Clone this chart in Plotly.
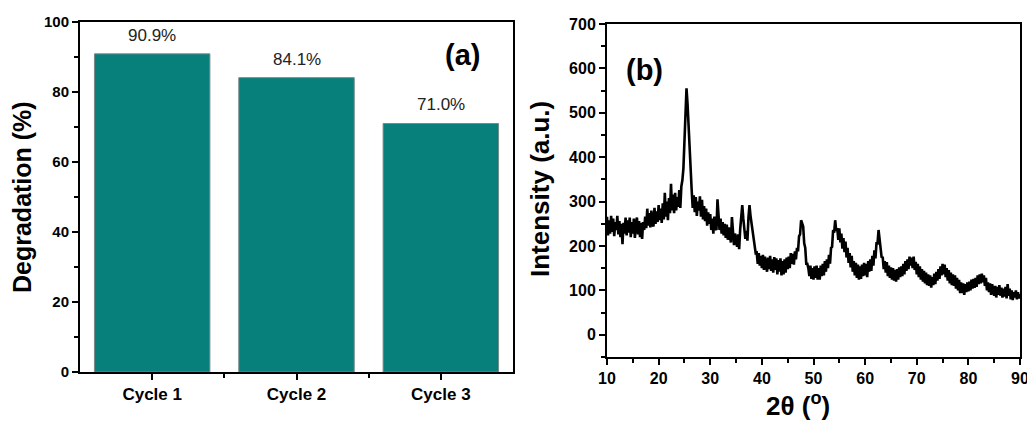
import plotly.graph_objects as go

# ---- Panel (a) data ----
cycles = ["Cycle 1", "Cycle 2", "Cycle 3"]
degradation = [90.9, 84.1, 71.0]
deg_labels = ["90.9%", "84.1%", "71.0%"]

# ---- Panel (b) data: XRD pattern, 2theta 10..90 step 0.2 ----
two_theta_start = 10.0
two_theta_step = 0.2
intensity = [
    266, 224, 258, 228, 268,   # 10
    232, 262, 222, 254, 236,   # 11
    268, 226, 256, 220, 250,   # 12
    204, 252, 228, 264, 224,   # 13
    258, 230, 264, 220, 254,   # 14
    228, 262, 218, 250, 264,   # 15
    226, 256, 220, 252, 216,   # 16
    254, 236, 266, 240, 284,   # 17
    246, 274, 242, 280, 248,   # 18
    244, 286, 250, 278, 254,   # 19
    292, 258, 284, 252, 296,   # 20
    260, 320, 266, 300, 258,   # 21
    308, 274, 340, 280, 316,   # 22
    274, 320, 280, 310, 288,   # 23
    326, 286, 334, 348, 375,   # 24
    430, 505, 555, 520, 470,   # 25
    395, 345, 326, 286, 314,   # 26
    276, 310, 268, 300, 280,   # 27
    312, 266, 304, 260, 290,   # 28
    256, 284, 246, 276, 250,   # 29
    272, 236, 262, 228, 266,   # 30
    240, 236, 305, 272, 236,   # 31
    262, 228, 254, 224, 250,   # 32
    218, 248, 214, 242, 220,   # 33
    208, 265, 224, 202, 228,   # 34
    212, 198, 226, 193, 238,   # 35
    260, 292, 262, 226, 216,   # 36
    234, 212, 264, 292, 268,   # 37
    252, 228, 214, 194, 184,   # 38
    185, 160, 184, 156, 178,   # 39
    150, 180, 146, 176, 152,   # 40
    142, 174, 148, 178, 144,   # 41
    170, 140, 175, 146, 172,   # 42
    136, 168, 142, 172, 134,   # 43
    166, 136, 170, 140, 174,   # 44
    148, 176, 150, 184, 160,   # 45
    182, 158, 188, 170, 196,   # 46
    188, 222, 226, 258, 250,   # 47
    244, 206, 196, 160, 160,   # 48
    150, 132, 156, 126, 150,   # 49
    124, 154, 128, 156, 124,   # 50
    150, 124, 156, 132, 160,   # 51
    134, 166, 142, 170, 150,   # 52
    180, 160, 196, 198, 236,   # 53
    230, 258, 234, 240, 214,   # 54
    240, 208, 228, 194, 218,   # 55
    186, 210, 174, 196, 162,   # 56
    184, 152, 178, 142, 166,   # 57
    134, 162, 128, 158, 124,   # 58
    154, 126, 158, 132, 162,   # 59
    134, 160, 130, 166, 142,   # 60
    170, 144, 178, 156, 190,   # 61
    172, 206, 206, 236, 212,   # 62
    204, 174, 176, 148, 166,   # 63
    140, 164, 132, 156, 128,   # 64
    152, 124, 150, 122, 146,   # 65
    120, 148, 124, 152, 130,   # 66
    154, 132, 160, 136, 166,   # 67
    144, 170, 148, 176, 156,   # 68
    174, 150, 176, 146, 164,   # 69
    136, 160, 130, 154, 124,   # 70
    148, 120, 144, 116, 140,   # 71
    112, 136, 110, 134, 106,   # 72
    130, 112, 138, 114, 142,   # 73
    122, 148, 126, 154, 134,   # 74
    160, 136, 158, 130, 150,   # 75
    122, 146, 116, 140, 112,   # 76
    136, 110, 134, 104, 128,   # 77
    100, 124, 94, 118, 94,     # 78
    116, 90, 114, 96, 118,     # 79
    98, 120, 100, 124, 104,    # 80
    126, 106, 128, 108, 134,   # 81
    114, 136, 116, 138, 118,   # 82
    134, 110, 128, 100, 118,   # 83
    96, 116, 90, 114, 94,      # 84
    88, 110, 84, 108, 90,      # 85
    112, 88, 106, 84, 104,     # 86
    86, 108, 82, 114, 88,      # 87
    104, 80, 100, 78, 96,      # 88
    84, 100, 80, 96, 82,       # 89
    92,                        # 90
]
two_theta = [round(two_theta_start + i * two_theta_step, 2) for i in range(len(intensity))]

FONT = "Arial, Liberation Sans, sans-serif"
BAR_COLOR = "#077f7a"

fig = go.Figure()

bar_x = list(range(len(cycles)))
fig.add_trace(go.Bar(
    x=bar_x, y=degradation, width=0.8,
    marker=dict(color=BAR_COLOR, line=dict(color="#7a8a8a", width=1)),
    xaxis="x", yaxis="y", showlegend=False,
))

fig.add_trace(go.Scatter(
    x=two_theta, y=intensity, mode="lines",
    line=dict(color="black", width=2.6),
    xaxis="x2", yaxis="y2", showlegend=False,
))

annotations = []
for xi, v, lab in zip(bar_x, degradation, deg_labels):
    annotations.append(dict(x=xi, y=v, xref="x", yref="y", text=lab, showarrow=False,
                            xanchor="center", yanchor="bottom", yshift=7,
                            font=dict(family=FONT, size=17, color="#222")))

def paper_text(px, py, text, size, angle=0):
    return dict(x=px / 1027, y=1 - py / 421, xref="paper", yref="paper", text=text,
                textangle=angle, showarrow=False, xanchor="center", yanchor="middle",
                font=dict(family=FONT, size=size, color="black"))

annotations += [
    paper_text(462, 55, "<b>(a)</b>", 29),
    paper_text(644, 70, "<b>(b)</b>", 29),
    paper_text(22, 197, "<b>Degradation (%)</b>", 25, -90),
    paper_text(540, 189, "<b>Intensity (a.u.)</b>", 26, -90),
    paper_text(798, 404, "<b>2θ (<sup>o</sup>)</b>", 26),
]

axis_common = dict(showline=True, linecolor="black", linewidth=2, mirror=True,
                   ticks="outside", tickcolor="black", tickwidth=2, ticklen=6,
                   showgrid=False, zeroline=False, automargin=False,
                   ticklabeloverflow="allow")

fig.update_layout(
    width=1027, height=421,
    margin=dict(l=0, r=0, t=0, b=0, autoexpand=False),
    paper_bgcolor="white", plot_bgcolor="white",
    font=dict(family=FONT, color="black"),
    bargap=0.2,
    annotations=annotations,
    xaxis=dict(domain=[80 / 1027, 513 / 1027], anchor="y", range=[-0.5, 2.5],
               tickmode="array", tickvals=bar_x, ticktext=cycles,
               tickfont=dict(family=FONT, size=17, weight="bold"),
               minor=dict(tickmode="array", tickvals=[0.5, 1.5], ticks="outside",
                          ticklen=4, tickwidth=1.5, tickcolor="black"),
               **axis_common),
    yaxis=dict(domain=[1 - 372 / 421, 1 - 22 / 421], anchor="x", range=[0, 100],
               tick0=0, dtick=20,
               tickfont=dict(family=FONT, size=15, weight="bold"),
               minor=dict(dtick=10, ticks="outside", ticklen=4, tickwidth=1.5, tickcolor="black"),
               **axis_common),
    xaxis2=dict(domain=[607 / 1027, 1020 / 1027], anchor="y2", range=[10, 90],
                tick0=10, dtick=10,
                tickfont=dict(family=FONT, size=16, weight="bold"),
                minor=dict(dtick=5, ticks="outside", ticklen=4, tickwidth=1.5, tickcolor="black"),
                **axis_common),
    yaxis2=dict(domain=[1 - 357 / 421, 1 - 24 / 421], anchor="x2", range=[-50, 700],
                tick0=0, dtick=100,
                tickfont=dict(family=FONT, size=16, weight="bold"),
                minor=dict(tick0=0, dtick=50, ticks="outside", ticklen=4, tickwidth=1.5, tickcolor="black"),
                **axis_common),
)

fig.write_html("out.html")
